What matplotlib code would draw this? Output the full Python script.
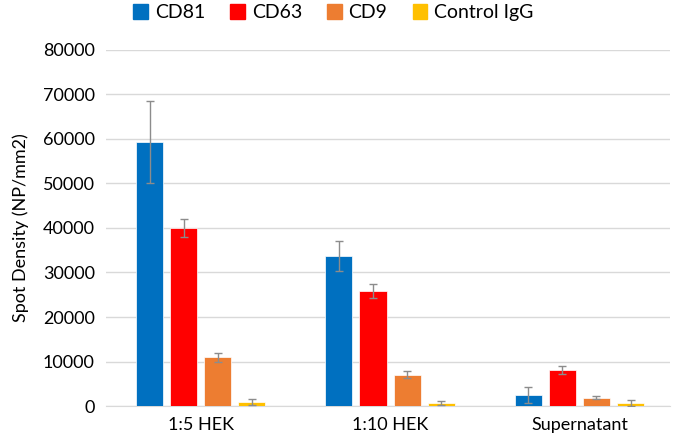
import matplotlib
matplotlib.use("Agg")
import matplotlib.pyplot as plt
import numpy as np

plt.rcParams['font.family'] = ['Lato', 'DejaVu Sans']

categories = ["1:5 HEK", "1:10 HEK", "Supernatant"]
series = ["CD81", "CD63", "CD9", "Control IgG"]
values = {
    "CD81": [59300, 33700, 2500],
    "CD63": [40000, 25800, 8100],
    "CD9": [11000, 7000, 1900],
    "Control IgG": [900, 700, 700],
}
errors = {
    "CD81": [9200, 3300, 1800],
    "CD63": [2000, 1600, 900],
    "CD9": [1000, 800, 300],
    "Control IgG": [600, 400, 700],
}
colors = ["#0070C0", "#FF0000", "#ED7D31", "#FFC000"]

fig = plt.figure(figsize=(6.75, 4.42), dpi=100)
ax = fig.add_axes([0.157, 0.0814, 0.836, 0.8056])

x = np.arange(len(categories))
step = 0.18
width = 0.143
for i, (s, c) in enumerate(zip(series, colors)):
    pos = x + (i - 1.5) * step
    ax.bar(pos, values[s], width=width, color=c, edgecolor='white', linewidth=0.5,
           yerr=errors[s], error_kw=dict(ecolor='#8C8C8C', elinewidth=1.0, capsize=3, capthick=1.0),
           label=s, zorder=3)

ax.set_xlim(-0.5, 2.48)
ax.set_ylim(0, 80000)
ax.set_yticks(np.arange(0, 80001, 10000))
ax.set_xticks(x)
ax.set_xticklabels(categories)
ax.tick_params(axis='both', length=0, labelsize=13, colors='#000000')
ax.tick_params(axis='x', pad=8)
ax.tick_params(axis='y', pad=8)
ax.grid(axis='y', color='#D9D9D9', linewidth=1, zorder=0)
for sp in ['top', 'right', 'left']:
    ax.spines[sp].set_visible(False)
ax.spines['bottom'].set_color('#D9D9D9')
ax.set_ylabel("Spot Density (NP/mm2)", fontsize=13, labelpad=10)

handles = [plt.Rectangle((0, 0), 1, 1, color=c) for c in colors]
fig.legend(handles, series, loc='upper center', bbox_to_anchor=(0.494, 1.03), ncol=4,
           frameon=False, fontsize=14, handlelength=0.75, handleheight=0.75,
           handletextpad=0.35, columnspacing=1.3)

fig.savefig("out.png", dpi=100)
